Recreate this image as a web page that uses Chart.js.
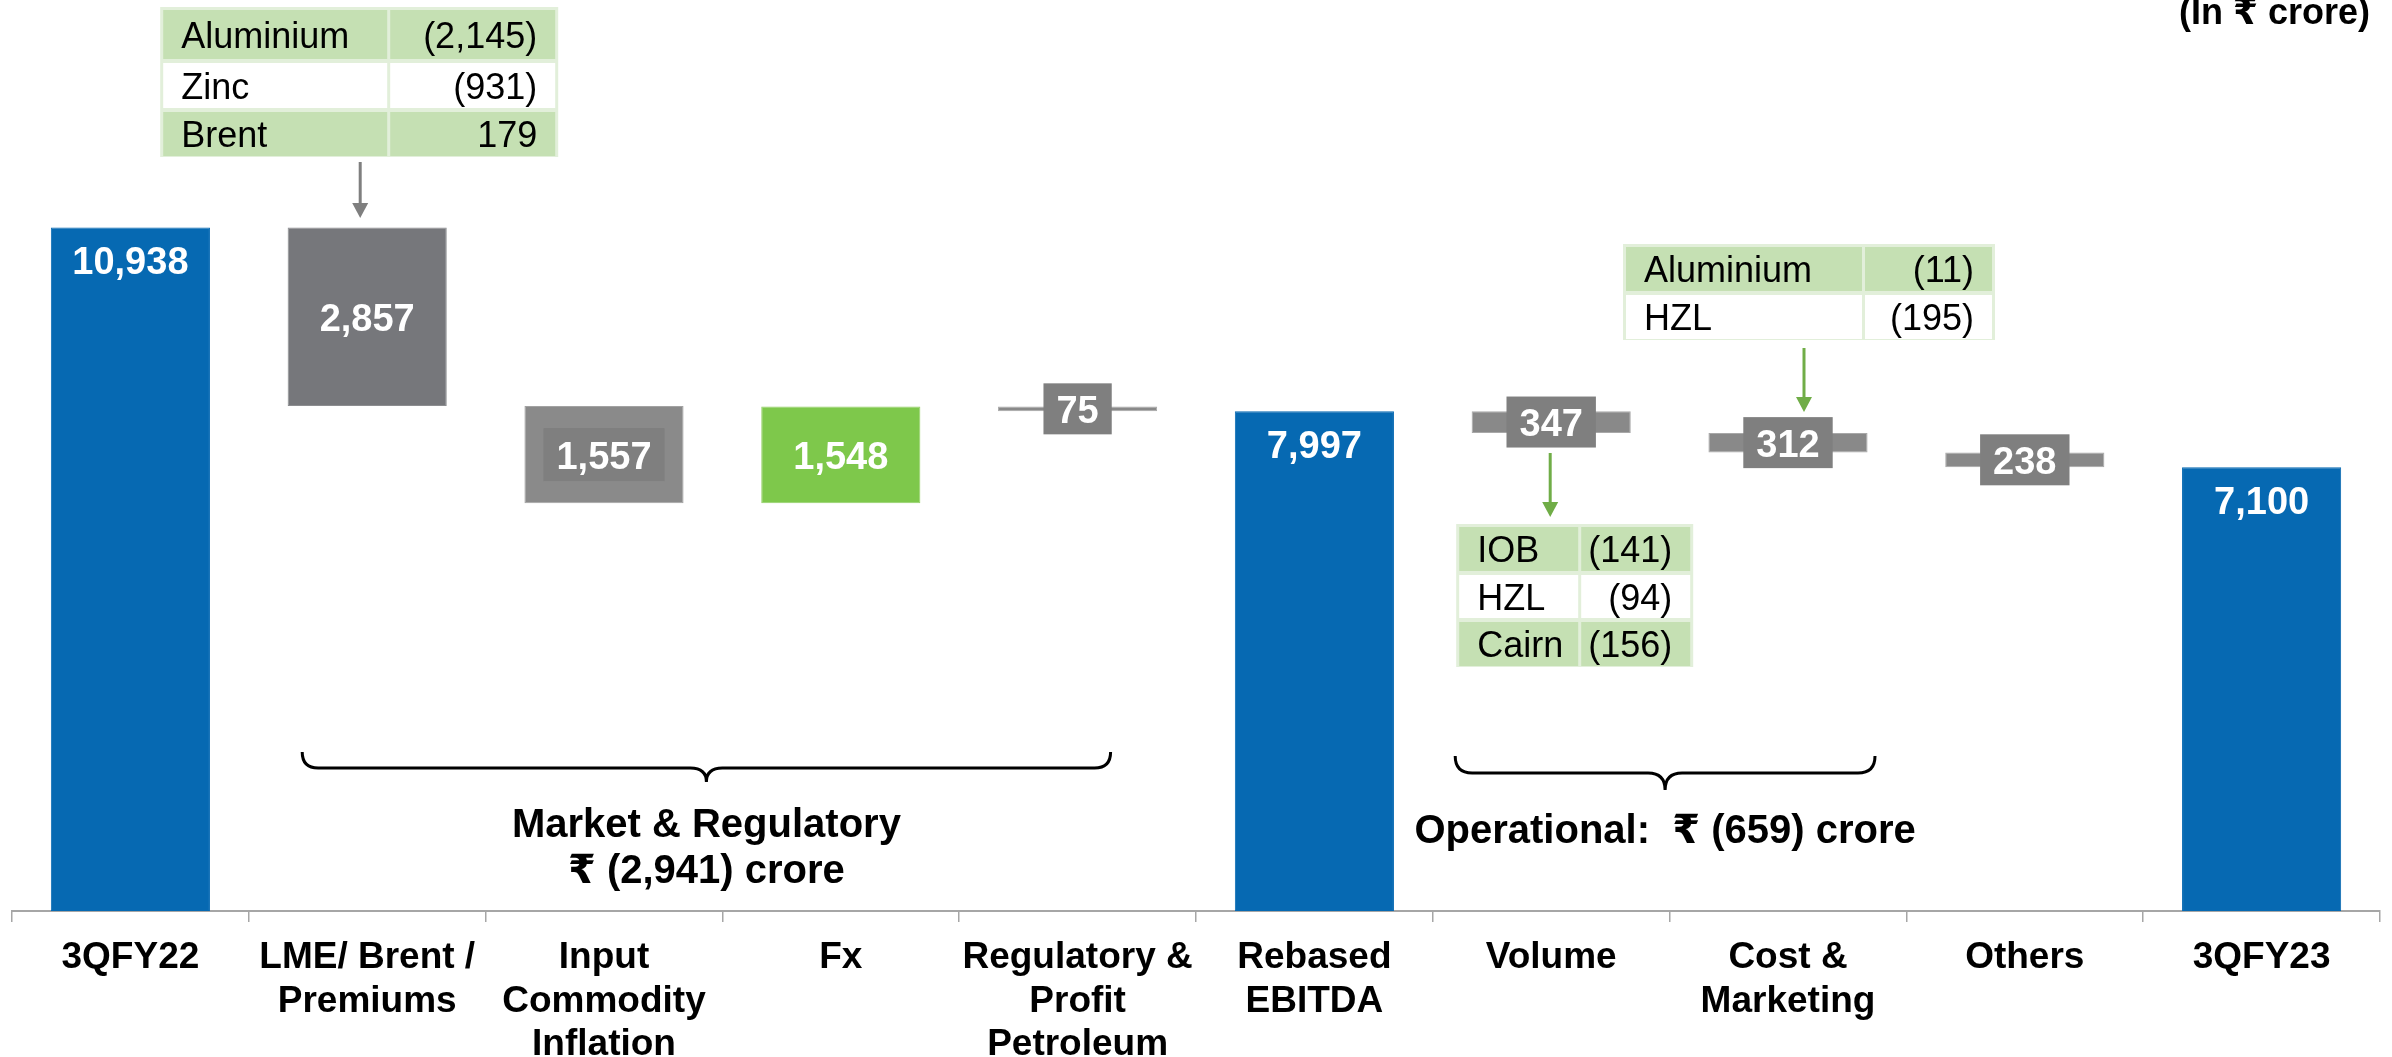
<!DOCTYPE html>
<html>
<head>
<meta charset="utf-8">
<script src="https://cdn.jsdelivr.net/npm/chart.js@4.4.0/dist/chart.umd.min.js"></script>
<style>
  html, body { margin: 0; padding: 0; background: #fff; }
  canvas { display: block; }
</style>
</head>
<body>
<canvas id="myChart" width="2392" height="1057"></canvas>
<script>
// EBITDA bridge 3QFY22 -> 3QFY23, in ₹ crore
var categories = [['3QFY22'], ['LME/ Brent /', 'Premiums'], ['Input', 'Commodity', 'Inflation'], ['Fx'],
  ['Regulatory &', 'Profit', 'Petroleum'], ['Rebased', 'EBITDA'], ['Volume'], ['Cost &', 'Marketing'],
  ['Others'], ['3QFY23']];
// totals are absolute, the rest are changes on the running total
var isTotal = [true, false, false, false, false, true, false, false, false, true];
var values = [10938, -2857, -1557, 1548, -75, 7997, -347, -312, -238, 7100];

// bars grouped under the two braces (first, last index)
var marketGroup = [1, 4];
var operationalGroup = [6, 7];

// breakdown tables
var lmeNames = ['Aluminium', 'Zinc', 'Brent'];
var lmeValues = [-2145, -931, 179];
var costNames = ['Aluminium', 'HZL'];
var costValues = [-11, -195];
var volumeNames = ['IOB', 'HZL', 'Cairn'];
var volumeValues = [-141, -94, -156];

var FONT = "'Liberation Sans', Arial, 'DejaVu Sans', sans-serif";
var BLUE = '#0669b2', BOX = '#7f7f7f';
var barColors = [BLUE, '#76777b', '#8a8a8a', '#7ec84b', '#898989', BLUE, '#898989', '#898989', '#898989', BLUE];
var edgeColors = [BLUE, '#8c8d90', '#a2a2a2', '#93d066', '#a8a8a8', BLUE, '#a8a8a8', '#a8a8a8', '#a8a8a8', BLUE];
var boxed = [false, false, true, false, true, false, true, true, true, false];

// floating [from, to] pairs for the waterfall
var running = 0;
var floating = values.map(function (v, i) {
  if (isTotal[i]) { running = v; return [0, v]; }
  var from = running;
  running += v;
  return [from, running];
});

function fmt(n) {
  return String(Math.abs(n)).replace(/\B(?=(\d{3})+(?!\d))/g, ',');
}
function paren(n) {
  return n < 0 ? '(' + fmt(n) + ')' : fmt(n);
}
function groupSum(g) {
  var s = 0;
  for (var i = g[0]; i <= g[1]; i++) s += values[i];
  return s;
}

function drawTable(ctx, x, y, colW, rowH, names, vals) {
  var W = colW[0] + colW[1], H = rowH.reduce(function (a, b) { return a + b; }, 0);
  ctx.fillStyle = '#e2efda';
  ctx.fillRect(x, y, W, H);
  var yy = y;
  ctx.font = '36px ' + FONT;
  ctx.textBaseline = 'alphabetic';
  names.forEach(function (name, r) {
    var h = rowH[r];
    ctx.fillStyle = r % 2 === 0 ? '#c5e0b3' : '#ffffff';
    ctx.fillRect(x + 3, yy + 3, colW[0] - 4, h - 4);
    ctx.fillRect(x + colW[0] + 2, yy + 3, colW[1] - 5, h - 4);
    var base = yy + (h + 26) / 2 + 1;
    ctx.fillStyle = '#000';
    ctx.textAlign = 'left';
    ctx.fillText(name, x + 21, base);
    ctx.textAlign = 'right';
    ctx.fillText(paren(vals[r]), x + W - 21, base);
    yy += h;
  });
}

function arrow(ctx, x, y1, y2, color) {
  ctx.strokeStyle = color;
  ctx.fillStyle = color;
  ctx.lineWidth = 3;
  ctx.beginPath();
  ctx.moveTo(x, y1);
  ctx.lineTo(x, y2 - 12);
  ctx.stroke();
  ctx.beginPath();
  ctx.moveTo(x - 8, y2 - 15);
  ctx.lineTo(x + 8, y2 - 15);
  ctx.lineTo(x, y2);
  ctx.closePath();
  ctx.fill();
}

function brace(ctx, x1, x2, yTop, mid, tip) {
  var cx = (x1 + x2) / 2, r = mid - yTop;
  ctx.strokeStyle = '#000';
  ctx.lineWidth = 3;
  ctx.beginPath();
  ctx.moveTo(x1, yTop);
  ctx.quadraticCurveTo(x1, mid, x1 + r, mid);
  ctx.lineTo(cx - r, mid);
  ctx.quadraticCurveTo(cx, mid, cx, tip);
  ctx.moveTo(cx, tip);
  ctx.quadraticCurveTo(cx, mid, cx + r, mid);
  ctx.lineTo(x2 - r, mid);
  ctx.quadraticCurveTo(x2, mid, x2, yTop);
  ctx.stroke();
}

var overlay = {
  id: 'overlay',
  afterDatasetsDraw: function (chart) {
    var ctx = chart.ctx, xs = chart.scales.x;
    var meta = chart.getDatasetMeta(0);
    ctx.save();

    // value labels, small changes get a dark box behind the number
    meta.data.forEach(function (bar, i) {
      var p = bar.getProps(['x', 'y', 'base'], true);
      var top = Math.min(p.y, p.base), bottom = Math.max(p.y, p.base);
      var text = fmt(values[i]);
      ctx.font = 'bold 38px ' + FONT;
      var cy = isTotal[i] ? top + 33 : (top + bottom) / 2;
      if (boxed[i]) {
        var w = ctx.measureText(text).width + 26, h = i === 2 ? 53 : 51;
        ctx.fillStyle = BOX;
        ctx.fillRect(p.x - w / 2, cy - h / 2, w, h);
      }
      ctx.fillStyle = '#fff';
      ctx.textAlign = 'center';
      ctx.textBaseline = 'alphabetic';
      ctx.fillText(text, p.x, cy + 14);
    });

    var cx = function (i) { return xs.getPixelForValue(i); };

    // breakdown tables with pointers
    drawTable(ctx, cx(1) - 207, 7, [228, 170], [53, 49, 48], lmeNames, lmeValues);
    arrow(ctx, cx(1) - 7, 162, 218, '#7f7f7f');
    drawTable(ctx, cx(7) - 165, 244, [240, 132], [48, 48], costNames, costValues);
    arrow(ctx, cx(7) + 16, 348, 412, '#70ad47');
    drawTable(ctx, cx(6) - 95, 524, [123, 114], [48, 47, 48], volumeNames, volumeValues);
    arrow(ctx, cx(6) - 1, 453, 517, '#70ad47');

    // braces and group totals
    var m1 = cx(marketGroup[0]) - 65, m2 = cx(marketGroup[1]) + 33;
    brace(ctx, m1, m2, 752, 768, 782);
    var o1 = cx(operationalGroup[0]) - 96, o2 = cx(operationalGroup[1]) + 87;
    brace(ctx, o1, o2, 756, 773, 790);

    ctx.fillStyle = '#000';
    ctx.textAlign = 'center';
    ctx.font = 'bold 40px ' + FONT;
    ctx.fillText('Market & Regulatory', (m1 + m2) / 2, 837);
    ctx.fillText('₹ ' + paren(groupSum(marketGroup)) + ' crore', (m1 + m2) / 2, 883);
    ctx.fillText('Operational:  ₹ ' + paren(groupSum(operationalGroup)) + ' crore', (o1 + o2) / 2, 843);

    // unit note
    ctx.textAlign = 'right';
    ctx.font = 'bold 36px ' + FONT;
    ctx.fillText('(In ₹ crore)', 2370, 24);
    ctx.restore();
  }
};

Chart.defaults.font.family = FONT;

var ctx = document.getElementById('myChart').getContext('2d');
var myChart = new Chart(ctx, {
  type: 'bar',
  data: {
    labels: categories,
    datasets: [{
      data: floating,
      backgroundColor: barColors,
      borderColor: edgeColors,
      borderWidth: 1,
      borderSkipped: false,
      categoryPercentage: 1,
      barPercentage: 0.672
    }]
  },
  options: {
    responsive: false,
    animation: false,
    devicePixelRatio: 1,
    layout: { padding: { left: 12, right: 12, top: 0, bottom: 0 } },
    plugins: { legend: { display: false }, tooltip: { enabled: false } },
    scales: {
      x: {
        grid: { drawOnChartArea: false, drawTicks: true, tickLength: 11, color: '#a6a6a6', lineWidth: 1.5 },
        border: { display: true, color: '#a6a6a6', width: 2 },
        ticks: {
          color: '#000',
          font: { size: 37, weight: 'bold', lineHeight: 1.18 },
          padding: 14,
          maxRotation: 0,
          minRotation: 0,
          autoSkip: false
        },
        afterFit: function (axis) { axis.height = 146; }
      },
      y: { display: false, min: 0, max: 14576 }
    }
  },
  plugins: [overlay]
});
</script>
</body>
</html>
